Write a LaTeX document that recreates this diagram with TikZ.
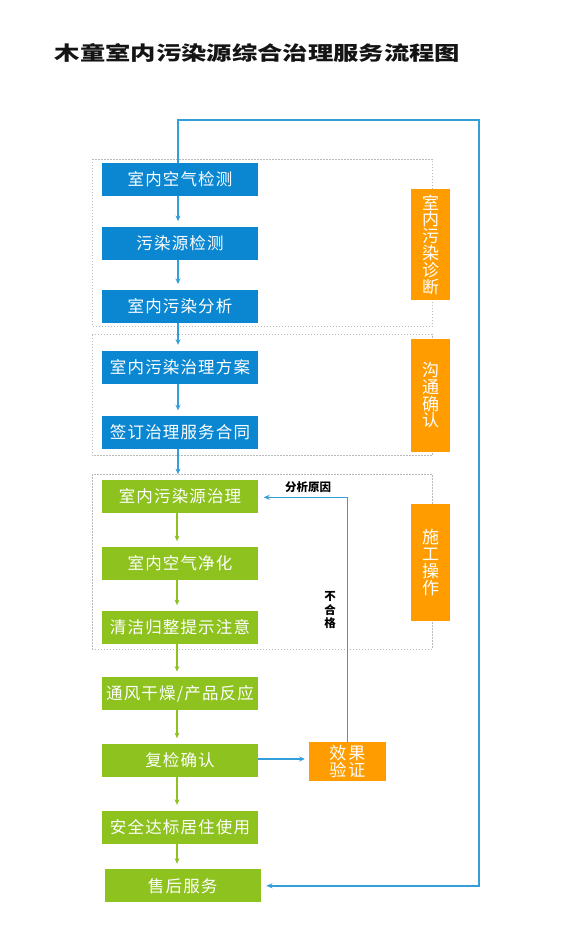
\documentclass[tikz,border=0pt]{standalone}
\usepackage{fontspec}
\usetikzlibrary{arrows.meta}
\setmainfont{Noto Sans CJK SC}
\newfontfamily\cjk{Noto Sans CJK SC}
\newfontfamily\boxfont[LetterSpace=7]{Noto Sans CJK SC}
\newfontfamily\titlefont[FakeStretch=1.3]{Noto Sans CJK SC}
\definecolor{boxblue}{RGB}{11,135,210}
\definecolor{boxgreen}{RGB}{141,194,31}
\definecolor{boxorange}{RGB}{255,157,0}
\definecolor{lineblue}{RGB}{52,158,219}
\definecolor{dotgray}{RGB}{185,185,185}
\tikzset{
  flowbox/.style={minimum width=156pt, minimum height=33pt, inner sep=0pt, text=white, font=\boxfont\fontsize{16.5pt}{16.5pt}\selectfont},
  bluebox/.style={flowbox, fill=boxblue},
  greenbox/.style={flowbox, fill=boxgreen},
  phasebox/.style={fill=boxorange, minimum width=39pt, inner sep=0pt, text=white, align=center, font=\cjk\fontsize{17pt}{16.8pt}\selectfont},
  groupframe/.style={draw=dotgray, line width=1pt, dash pattern=on 1.4pt off 1.6pt},
  bluearrow/.style={draw=lineblue, line width=1.1pt, -{Stealth[length=5.5pt,width=5pt]}, shorten >=5.5pt},
  greenarrow/.style={draw=boxgreen, line width=1.1pt, -{Stealth[length=5.5pt,width=5pt]}, shorten >=5.5pt},
  loopline/.style={draw=lineblue, line width=1.4pt, -{Stealth[length=6pt,width=5pt]}, shorten >=5.5pt},
  remark/.style={font=\cjk\bfseries\fontsize{11.5pt}{13.5pt}\selectfont, text=black, inner sep=0pt, align=center}
}
\begin{document}
\begin{tikzpicture}[x=1pt, y=-1pt]
\useasboundingbox (0,0) rectangle (579,942);
\fill[white] (0,0) rectangle (579,942);

% title
\node[font=\titlefont\bfseries\fontsize{19.5pt}{20pt}\selectfont, text=black!92, inner sep=0pt] (title) at (257.5,53) {木童室内污染源综合治理服务流程图};

% dotted group frames
\draw[groupframe] (92.3,159) rectangle (432.3,326.7);
\draw[groupframe] (92.3,334.7) rectangle (432.3,455.7);
\draw[groupframe] (92.3,474.3) rectangle (432.3,649);

% flow boxes
\node[bluebox] (b1) at (180,179.3) {室内空气检测};
\node[bluebox] (b2) at (180,243.3) {污染源检测};
\node[bluebox] (b3) at (180,306.2) {室内污染分析};
\node[bluebox] (b4) at (180,367) {室内污染治理方案};
\node[bluebox] (b5) at (180,432.5) {签订治理服务合同};
\node[greenbox] (b6) at (180,496.3) {室内污染源治理};
\node[greenbox] (b7) at (180,563.3) {室内空气净化};
\node[greenbox] (b8) at (180,627.3) {清洁归整提示注意};
\node[greenbox] (b9) at (180,693.7) {通风干燥/产品反应};
\node[greenbox] (b10) at (180,760.3) {复检确认};
\node[greenbox] (b11) at (180,827) {安全达标居住使用};
\node[greenbox] (b12) at (182.7,885.8) {售后服务};

% phase labels
\node[phasebox, minimum height=111pt] (p1) at (430.5,244.5) {室\\内\\污\\染\\诊\\断};
\node[phasebox, minimum height=112.7pt] (p2) at (430.5,395.3) {沟\\通\\确\\认};
\node[phasebox, minimum height=116.7pt] (p3) at (430.5,562.7) {施\\工\\操\\作};
\node[phasebox, minimum width=76.7pt, minimum height=38.4pt, font=\cjk\fontsize{17pt}{15pt}\selectfont] (ev) at (347.3,761.5) {效\hspace{2pt}果\\验\hspace{2pt}证};

% vertical flow arrows
\draw[bluearrow] (b1.south -| 178,0) -- (b2.north -| 178,0);
\draw[bluearrow] (b2.south -| 178,0) -- (b3.north -| 178,0);
\draw[bluearrow] (b3.south -| 178,0) -- (b4.north -| 178,0);
\draw[bluearrow] (b4.south -| 178,0) -- (b5.north -| 178,0);
\draw[bluearrow] (b5.south -| 178,0) -- (b6.north -| 178,0);
\draw[greenarrow] (b6.south -| 177,0) -- (b7.north -| 177,0);
\draw[greenarrow] (b7.south -| 177,0) -- (b8.north -| 177,0);
\draw[greenarrow] (b8.south -| 177,0) -- (b9.north -| 177,0);
\draw[greenarrow] (b9.south -| 177,0) -- (b10.north -| 177,0);
\draw[greenarrow] (b10.south -| 177,0) -- (b11.north -| 177,0);
\draw[greenarrow] (b11.south -| 177,0) -- (b12.north -| 177,0);

% check -> effect verification
\draw[bluearrow, shorten >=4pt] (b10.east |- 0,759) -- (ev.west |- 0,759);

% fail loop
\coordinate (failtop) at (347.3,497.3);
\draw[loopline] (ev.north) -- (failtop) -- (b6.east |- failtop);
\node[remark] (why) at (308,487.5) {分析原因};
\node[remark] (ng) at (330,610) {不\\合\\格};

% outer loop to after-sales
\coordinate (lt) at (178,120);
\coordinate (rt) at (479,120);
\draw[loopline] (b1.north -| lt) -- (lt) -- (rt) |- (b12.east);
\end{tikzpicture}
\end{document}
